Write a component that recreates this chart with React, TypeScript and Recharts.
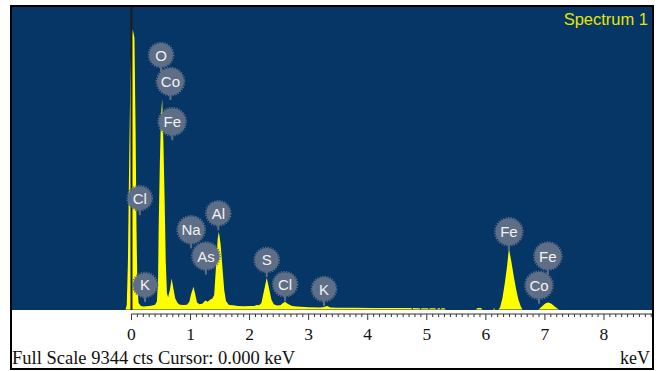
import React from "react";
import { ComposedChart, Area, XAxis, YAxis, ReferenceLine, ReferenceDot } from "recharts";

// spectrum: energy (keV) and counts
const spectrumKeV = [
  -0.1, -0.08, -0.06, -0.04, -0.02, 0.0, 0.02, 0.05, 0.07, 0.085, 0.1, 0.12, 0.16, 0.2, 0.25, 0.3, 0.35,
  0.4, 0.43, 0.45, 0.46, 0.48, 0.5, 0.52, 0.54, 0.56, 0.58, 0.6, 0.62, 0.65, 0.68, 0.71, 0.74, 0.78, 0.82, 0.88,
  0.94, 0.98, 1.01, 1.05, 1.08, 1.11, 1.15, 1.2, 1.25, 1.29, 1.33, 1.37, 1.4, 1.43, 1.46, 1.48, 1.51, 1.54, 1.57,
  1.6, 1.65, 1.72, 1.8, 1.9, 2.0, 2.08, 2.12, 2.16, 2.2, 2.24, 2.29, 2.33, 2.37, 2.41, 2.46, 2.52, 2.56, 2.6, 2.65,
  2.72, 2.8, 3.0, 3.2, 3.26, 3.31, 3.37, 3.5, 3.8, 4.1, 4.4, 4.54, 4.74, 4.755, 4.77, 4.88, 4.895, 4.91, 5.02,
  5.035, 5.05, 5.14, 5.165, 5.19, 5.22, 5.235, 5.25, 5.3, 5.32, 5.83, 5.86, 5.92, 5.94, 6.12, 6.14, 6.16, 6.21,
  6.24, 6.28, 6.32, 6.36, 6.39, 6.43, 6.47, 6.51, 6.55, 6.59, 6.62, 6.89, 6.93, 6.98, 7.02, 7.06, 7.11, 7.16,
  7.21, 7.24,
];
const spectrumCounts = [
  0, 150, 1500, 4500, 7000, 8400, 8665, 8400, 5500, 2500, 700, 200, 110, 90, 100, 110, 120,
  150, 250, 900, 2500, 4500, 6000, 6500, 5200, 3500, 1500, 500, 380, 600, 960, 650, 350, 200, 150, 140,
  150, 240, 480, 700, 460, 220, 160, 180, 280, 240, 300, 340, 450, 1300, 2200, 2400, 2000, 1300, 600,
  260, 140, 130, 110, 100, 105, 110, 140, 130, 200, 550, 980, 650, 300, 160, 120, 130, 190, 240, 170,
  110, 90, 70, 60, 80, 110, 65, 55, 55, 50, 50, 45, 45, 0, 45, 40, 0, 40, 40,
  0, 40, 40, 0, 40, 40, 0, 40, 40, 0, 0, 50, 50, 0, 0, 40, 0, 0,
  60, 350, 800, 1350, 1890, 1500, 1050, 650, 320, 100, 0, 0, 60, 150, 200, 215, 180, 100,
  30, 0,
];

// element tags: name, position (keV, counts)
const tagNames = ["O", "Co", "Fe", "Cl", "Na", "Al", "As", "K", "S", "Cl", "K", "Fe", "Fe", "Co"];
const tagKeV = [0.5, 0.66, 0.69, 0.14, 1.01, 1.47, 1.26, 0.23, 2.29, 2.6, 3.26, 6.39, 7.05, 6.9];
const tagCounts = [7860, 7040, 5800, 3440, 2460, 2970, 1650, 760, 1530, 780, 630, 2400, 1650, 750];

const majorTicks = [0, 1, 2, 3, 4, 5, 6, 7, 8];
const FULL_SCALE = 9344;

const data = spectrumKeV.map((kev, i) => ({ kev, counts: spectrumCounts[i] }));
const rulerTicks = Array.from({ length: 89 }, (_, i) => i / 10);

const BLUE = "#053665";
const TAG = "#5f6e87";
const SERIF = "'Liberation Serif', 'Times New Roman', serif";
const SANS = "'Liberation Sans', Arial, sans-serif";

const RulerTick = (props: any) => {
  const { x, y, payload } = props;
  const v = payload.value;
  const major = Math.abs(v - Math.round(v)) < 1e-6;
  return (
    <g>
      <line x1={x} x2={x} y1={y} y2={y + (major ? 6 : 3)} stroke="#333" strokeWidth={1} />
      {major && majorTicks.includes(Math.round(v)) && (
        <text x={x} y={y + 25.5} textAnchor="middle" fontFamily={SERIF} fontSize={17.5} fill="#111">
          {Math.round(v)}
        </text>
      )}
    </g>
  );
};

const ElementTag = ({ cx, cy, name }: { cx: number; cy: number; name: string }) => {
  const r = name.length > 1 && name !== "Cl" && name !== "Al" ? 13.5 : 12;
  return (
    <g>
      <line x1={cx} x2={cx} y1={cy} y2={cy + r + 5} stroke={TAG} strokeWidth={2} />
      <circle cx={cx} cy={cy} r={r} fill={TAG} />
      <circle cx={cx} cy={cy} r={r + 0.6} fill="none" stroke={TAG} strokeWidth={1.4} strokeDasharray="1.3 1.3" />
      <text x={cx} y={cy + 5.5} textAnchor="middle" fontFamily={SANS} fontSize={15} fill="#f2f2f2">
        {name}
      </text>
    </g>
  );
};

export default function App() {
  return (
    <div style={{ position: "absolute", left: 0, top: 0, width: 658, height: 371, background: "#fff" }}>
      <div
        style={{
          position: "absolute",
          left: 10,
          top: 5,
          width: 644,
          height: 365,
          border: "2px solid #000",
          boxSizing: "border-box",
        }}
      />
      <div style={{ position: "absolute", left: 12, top: 7, width: 640, height: 303, background: BLUE }} />
      <div style={{ position: "absolute", left: 0, top: 0 }}>
        <ComposedChart width={658} height={371} data={data} margin={{ top: 7, right: 6, bottom: 27, left: 12 }}>
          <XAxis
            dataKey="kev"
            type="number"
            domain={[-2.023, 8.813]}
            allowDataOverflow
            ticks={rulerTicks}
            interval={0}
            tick={<RulerTick />}
            tickLine={false}
            axisLine={false}
            tickSize={0}
            tickMargin={0}
            height={30}
          />
          <YAxis hide type="number" domain={[-139, FULL_SCALE]} allowDataOverflow />
          <Area
            dataKey="counts"
            type="linear"
            baseValue={0}
            fill="#ffff00"
            fillOpacity={1}
            stroke="none"
            dot={false}
            activeDot={false}
            isAnimationActive={false}
          />
          <ReferenceLine
            segment={[
              { x: 0, y: -15 },
              { x: 0, y: FULL_SCALE },
            ]}
            stroke="#1c1c1c"
            strokeWidth={2}
          />
          <ReferenceLine
            segment={[
              { x: 0, y: -139 },
              { x: 8.813, y: -139 },
            ]}
            stroke="#333"
            strokeWidth={1}
          />
          {tagNames.map((name, i) => (
            <ReferenceDot
              key={i}
              x={tagKeV[i]}
              y={tagCounts[i]}
              r={12}
              shape={(p: any) => <ElementTag cx={p.cx} cy={p.cy} name={name} />}
            />
          ))}
        </ComposedChart>
      </div>
      <svg width={658} height={371} style={{ position: "absolute", left: 0, top: 0, pointerEvents: "none" }}>
        <text x={648} y={25} textAnchor="end" fontFamily={SANS} fontSize={16.5} fill="#e6e600">
          Spectrum 1
        </text>
        <text x={12} y={364} fontFamily={SERIF} fontSize={18.5} fill="#111">
          Full Scale {FULL_SCALE} cts Cursor: 0.000 keV
        </text>
        <text x={650} y={364} textAnchor="end" fontFamily={SERIF} fontSize={18} fill="#111">
          keV
        </text>
      </svg>
    </div>
  );
}
